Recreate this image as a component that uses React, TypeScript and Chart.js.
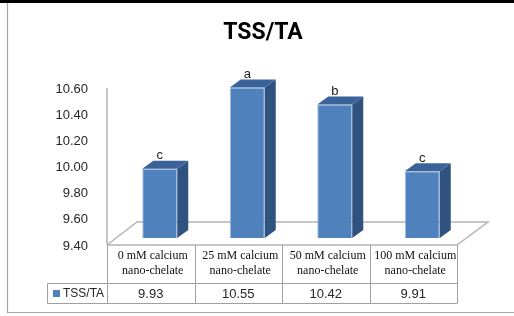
import React, { useEffect, useRef } from 'react';
import { Chart, registerables } from 'chart.js';

Chart.register(...registerables);

const chartTitle = 'TSS/TA';
const seriesName = 'TSS/TA';
const categoryLines = [
  ['0 mM calcium', 'nano-chelate'],
  ['25 mM calcium', 'nano-chelate'],
  ['50 mM calcium', 'nano-chelate'],
  ['100 mM calcium', 'nano-chelate'],
];
const values = [9.93, 10.55, 10.42, 9.91];
const valueLabels = ['9.93', '10.55', '10.42', '9.91'];
const letters = ['c', 'a', 'b', 'c'];
const yTickValues = [9.4, 9.6, 9.8, 10.0, 10.2, 10.4, 10.6];

const FRONT = '#4f81bd';
const SIDE = '#30527f';
const TOP = '#3b639a';
const GRID = '#b4b4b4';
const SANS = '"Liberation Sans", Arial, sans-serif';
const SERIF = '"Liberation Serif", "Times New Roman", serif';

// offsets of the bar plane from the front plane, and bar depth
const DX = 9, DY = -8;
const SX = 11, SY = -8;
// floor depth
const FX = 30, FY = -23;

const excelPlugin = {
  id: 'excel3d',
  beforeDraw(chart: any) {
    const ctx = chart.ctx;
    const W = chart.width, H = chart.height;
    const { left, right, top, bottom } = chart.chartArea;
    ctx.save();
    ctx.fillStyle = '#ffffff';
    ctx.fillRect(0, 0, W, H);
    // outer frame
    ctx.fillStyle = '#000000';
    ctx.fillRect(0, 0, W, 3);
    ctx.strokeStyle = '#a6a6a6';
    ctx.lineWidth = 1.2;
    ctx.beginPath();
    ctx.moveTo(7.5, 3);
    ctx.lineTo(7.5, 312.5);
    ctx.lineTo(W, 312.5);
    ctx.stroke();
    // floor
    const fy = bottom - 1;
    ctx.strokeStyle = GRID;
    ctx.lineWidth = 1.5;
    ctx.beginPath();
    ctx.moveTo(left, fy);
    ctx.lineTo(left + FX, fy + FY);
    ctx.lineTo(right + FX + 1, fy + FY);
    ctx.lineTo(right, fy);
    ctx.lineTo(left, fy);
    ctx.stroke();
    // axis line
    ctx.beginPath();
    ctx.moveTo(left, top - 1);
    ctx.lineTo(left, fy);
    ctx.stroke();
    ctx.restore();
  },
  beforeDatasetsDraw(chart: any) {
    chart.ctx.save();
    chart.ctx.translate(DX, DY);
  },
  afterDatasetsDraw(chart: any) {
    const ctx = chart.ctx;
    ctx.restore();
    const meta = chart.getDatasetMeta(0);
    const { bottom } = chart.chartArea;
    ctx.save();
    meta.data.forEach((bar: any, i: number) => {
      const { x, y, base, width } = bar.getProps(['x', 'y', 'base', 'width'], true);
      const l = x - width / 2 + DX, r = x + width / 2 + DX;
      const t = y + DY, b = Math.min(base, bottom) + DY;
      ctx.fillStyle = SIDE;
      ctx.beginPath();
      ctx.moveTo(r, t);
      ctx.lineTo(r + SX, t + SY);
      ctx.lineTo(r + SX, b + SY);
      ctx.lineTo(r, b);
      ctx.closePath();
      ctx.fill();
      ctx.fillStyle = TOP;
      ctx.beginPath();
      ctx.moveTo(l, t);
      ctx.lineTo(r, t);
      ctx.lineTo(r + SX, t + SY);
      ctx.lineTo(l + SX, t + SY);
      ctx.closePath();
      ctx.fill();
      ctx.fillStyle = '#1a1a1a';
      ctx.font = `13px ${SANS}`;
      ctx.textAlign = 'center';
      ctx.textBaseline = 'alphabetic';
      ctx.fillText(letters[i], x + DX, t - 9.5);
    });
    ctx.restore();
  },
  afterDraw(chart: any) {
    const ctx = chart.ctx;
    const { left, right, bottom } = chart.chartArea;
    const xs = chart.scales.x;
    const n = categoryLines.length;
    const colW = (right - left) / n;
    const fy = bottom - 1;
    const rowTop = 283.5, rowBot = 303.5, legL = 47.5;
    ctx.save();
    // title
    ctx.fillStyle = '#000';
    ctx.font = `bold 23px Roboto, ${SANS}`;
    ctx.textAlign = 'center';
    ctx.textBaseline = 'alphabetic';
    ctx.fillText(chartTitle, 263, 39);
    // table grid
    ctx.strokeStyle = '#a0a0a0';
    ctx.lineWidth = 1;
    ctx.beginPath();
    for (let k = 0; k <= n; k++) {
      const gx = Math.round(left + k * colW) + 0.5;
      ctx.moveTo(gx, fy);
      ctx.lineTo(gx, rowBot);
    }
    ctx.moveTo(legL, rowTop);
    ctx.lineTo(right, rowTop);
    ctx.moveTo(legL, rowBot);
    ctx.lineTo(right, rowBot);
    ctx.moveTo(legL, rowTop);
    ctx.lineTo(legL, rowBot);
    ctx.stroke();
    // category labels
    ctx.fillStyle = '#111';
    ctx.font = `12px ${SERIF}`;
    ctx.textBaseline = 'middle';
    ctx.textAlign = 'center';
    categoryLines.forEach((lines, i) => {
      const cx = xs.getPixelForValue(i) + 2;
      lines.forEach((ln, j) => ctx.fillText(ln, cx, 256 + j * 15));
    });
    // values row
    ctx.fillStyle = '#262626';
    ctx.font = `13px ${SANS}`;
    valueLabels.forEach((v, i) => {
      ctx.fillText(v, xs.getPixelForValue(i), 294);
    });
    // legend key
    ctx.fillStyle = FRONT;
    ctx.fillRect(53, 290, 7, 7);
    ctx.fillStyle = '#262626';
    ctx.font = `12px ${SANS}`;
    ctx.textAlign = 'left';
    ctx.fillText(seriesName, 63, 294);
    ctx.restore();
  },
};

export default function App() {
  const ref = useRef<HTMLCanvasElement>(null);
  useEffect(() => {
    if (!ref.current) return;
    const chart = new Chart(ref.current, {
      type: 'bar',
      data: {
        labels: categoryLines.map((l) => l.join(' ')),
        datasets: [
          {
            label: seriesName,
            data: values,
            backgroundColor: FRONT,
            borderColor: 'rgba(140,175,220,0.8)',
            borderWidth: 1,
            barPercentage: 0.4,
            categoryPercentage: 1,
          },
        ],
      },
      options: {
        responsive: false,
        animation: false,
        devicePixelRatio: 1,
        layout: { padding: { left: 0, top: 89, right: 57, bottom: 70 } },
        plugins: {
          legend: { display: false },
          tooltip: { enabled: false },
          title: { display: false },
        },
        scales: {
          x: { display: false },
          y: {
            min: 9.4,
            max: 10.6,
            grid: { display: false },
            border: { display: false },
            afterFit: (scale: any) => {
              scale.width = 107;
            },
            afterBuildTicks: (scale: any) => {
              scale.ticks = yTickValues.map((v) => ({ value: v }));
            },
            ticks: {
              padding: 11,
              color: '#262626',
              font: { family: SANS, size: 13 },
              callback: (v: any) => Number(v).toFixed(2),
            },
          },
        },
      },
      plugins: [excelPlugin],
    });
    return () => chart.destroy();
  }, []);
  return (
    <div style={{ position: 'fixed', left: 0, top: 0, width: 514, height: 316, background: '#fff' }}>
      <canvas ref={ref} width={514} height={316} style={{ display: 'block' }} />
    </div>
  );
}
